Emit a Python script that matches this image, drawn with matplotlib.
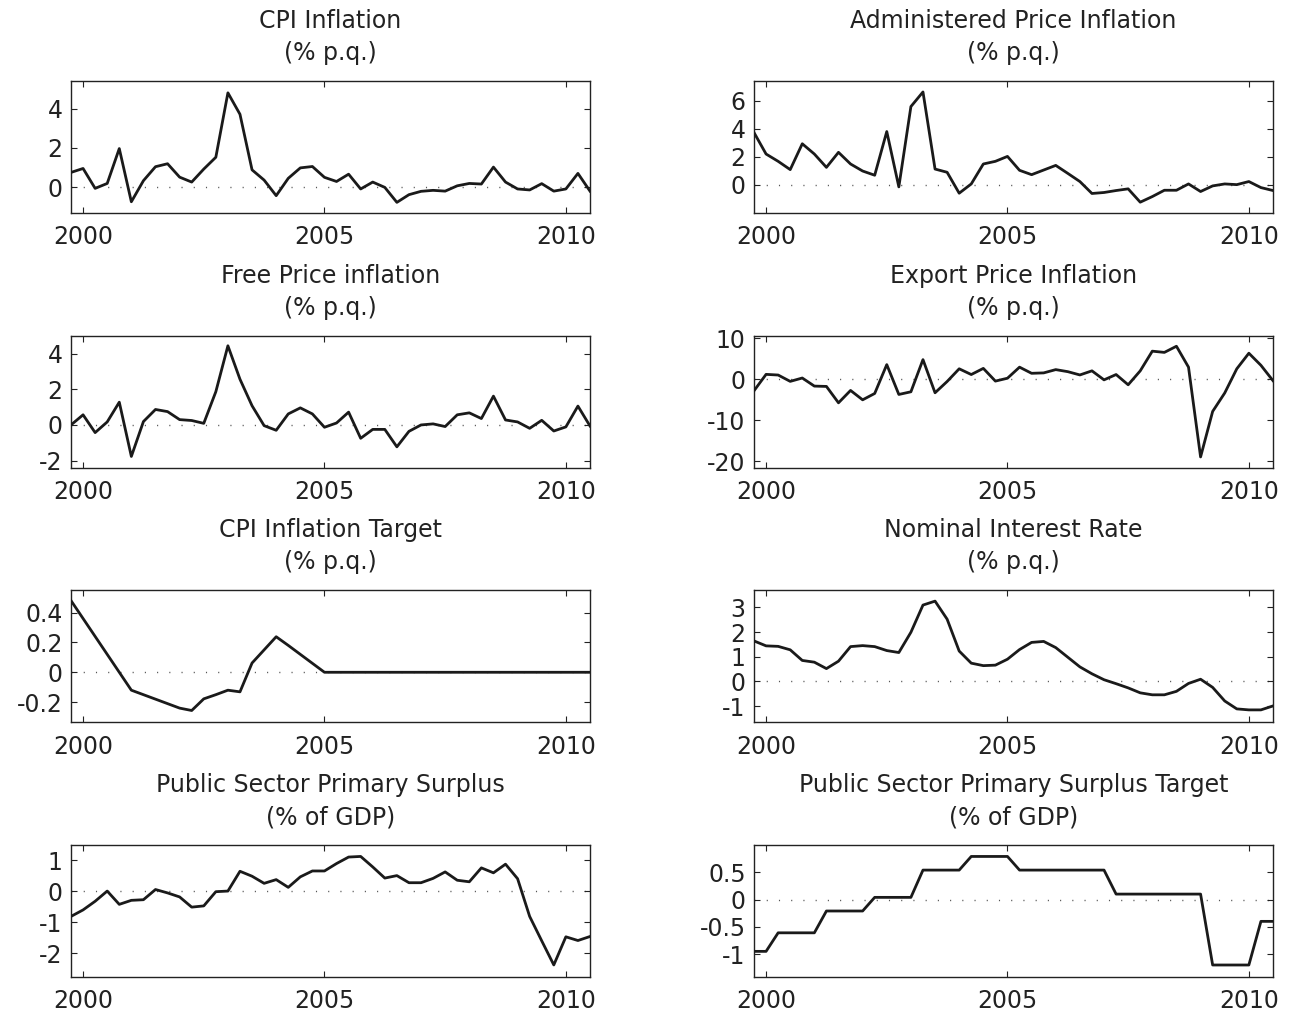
import numpy as np
import pandas as pd
import matplotlib
matplotlib.use("Agg")
import matplotlib.pyplot as plt

plt.rcParams['font.family'] = ['DejaVu Sans']
plt.rcParams['axes.unicode_minus'] = False

quarters = pd.period_range('1999Q4', '2010Q3', freq='Q')

cpi_inflation = [0.76, 0.96, -0.05, 0.2, 1.97, -0.73, 0.34, 1.05, 1.2, 0.52, 0.27, 0.93, 1.53, 4.8,
                 3.71, 0.89, 0.37, -0.42, 0.46, 0.99, 1.06, 0.51, 0.3, 0.67, -0.08, 0.27, 0.0, -0.76,
                 -0.37, -0.2, -0.15, -0.19, 0.08, 0.2, 0.17, 1.03, 0.27, -0.08, -0.13, 0.19, -0.19,
                 -0.08, 0.71, -0.19]
admin_inflation = [3.73, 2.2, 1.68, 1.09, 2.93, 2.2, 1.25, 2.32, 1.49, 0.99, 0.69, 3.8, -0.14, 5.58,
                   6.62, 1.13, 0.9, -0.59, 0.07, 1.49, 1.68, 2.03, 1.04, 0.73, 1.06, 1.39, 0.82, 0.24,
                   -0.61, -0.54, -0.4, -0.28, -1.23, -0.83, -0.38, -0.38, 0.07, -0.47, -0.07, 0.07,
                   0.02, 0.24, -0.19, -0.4]
free_inflation = [0.0, 0.57, -0.43, 0.17, 1.28, -1.77, 0.19, 0.87, 0.75, 0.3, 0.25, 0.09, 1.87, 4.45,
                  2.57, 1.08, -0.04, -0.3, 0.62, 0.96, 0.62, -0.13, 0.11, 0.72, -0.75, -0.25, -0.25,
                  -1.23, -0.36, 0.0, 0.06, -0.09, 0.57, 0.68, 0.36, 1.62, 0.28, 0.17, -0.19, 0.26,
                  -0.34, -0.11, 1.06, -0.06]
export_inflation = [-2.86, 1.14, 0.98, -0.57, 0.25, -1.72, -1.8, -5.8, -2.78, -5.07, -3.52, 3.52,
                    -3.76, -3.11, 4.74, -3.35, -0.6, 2.5, 1.1, 2.6, -0.5, 0.2, 2.9, 1.4, 1.5, 2.3,
                    1.8, 1.0, 2.0, -0.2, 1.1, -1.4, 2.0, 6.8, 6.5, 8.0, 2.9, -19.0, -7.9, -3.4, 2.5,
                    6.3, 3.35, -0.4]
cpi_target = [0.48, 0.36, 0.24, 0.12, 0.0, -0.12, -0.15, -0.18, -0.21, -0.24, -0.256, -0.178, -0.15,
              -0.12, -0.131, 0.062, 0.15, 0.238, 0.18, 0.12, 0.06, 0.0, 0.0, 0.0, 0.0, 0.0, 0.0, 0.0,
              0.0, 0.0, 0.0, 0.0, 0.0, 0.0, 0.0, 0.0, 0.0, 0.0, 0.0, 0.0, 0.0, 0.0, 0.0, 0.0]
interest_rate = [1.64, 1.44, 1.42, 1.28, 0.85, 0.78, 0.52, 0.82, 1.41, 1.45, 1.41, 1.25, 1.17, 1.99,
                 3.09, 3.25, 2.52, 1.23, 0.74, 0.64, 0.66, 0.9, 1.29, 1.58, 1.62, 1.37, 0.98, 0.59,
                 0.31, 0.07, -0.09, -0.26, -0.46, -0.54, -0.54, -0.4, -0.08, 0.09, -0.24, -0.79,
                 -1.11, -1.15, -1.15, -0.99]
primary_surplus = [-0.81, -0.6, -0.32, 0.01, -0.42, -0.29, -0.27, 0.06, -0.05, -0.18, -0.51, -0.47,
                   -0.01, 0.01, 0.65, 0.49, 0.26, 0.38, 0.13, 0.47, 0.66, 0.66, 0.9, 1.11, 1.13, 0.79,
                   0.43, 0.51, 0.28, 0.28, 0.42, 0.63, 0.36, 0.31, 0.76, 0.6, 0.88, 0.41, -0.81,
                   -1.6, -2.38, -1.47, -1.59, -1.46]
surplus_target = [-0.95, -0.95, -0.61, -0.61, -0.61, -0.61, -0.21, -0.21, -0.21, -0.21, 0.04, 0.04,
                  0.04, 0.04, 0.54, 0.54, 0.54, 0.54, 0.79, 0.79, 0.79, 0.79, 0.54, 0.54, 0.54, 0.54,
                  0.54, 0.54, 0.54, 0.54, 0.1, 0.1, 0.1, 0.1, 0.1, 0.1, 0.1, 0.1, -1.2, -1.2, -1.2,
                  -1.2, -0.4, -0.4]

titles = ["CPI Inflation\n(% p.q.)", "Administered Price Inflation\n(% p.q.)",
          "Free Price inflation\n(% p.q.)", "Export Price Inflation\n(% p.q.)",
          "CPI Inflation Target\n(% p.q.)", "Nominal Interest Rate\n(% p.q.)",
          "Public Sector Primary Surplus\n(% of GDP)", "Public Sector Primary Surplus Target\n(% of GDP)"]
series = [cpi_inflation, admin_inflation, free_inflation, export_inflation,
          cpi_target, interest_rate, primary_surplus, surplus_target]
yticks = [[0, 2, 4], [0, 2, 4, 6], [-2, 0, 2, 4], [-20, -10, 0, 10],
          [-0.2, 0, 0.2, 0.4], [-1, 0, 1, 2, 3], [-2, -1, 0, 1], [-1, -0.5, 0, 0.5]]
ylims = [(-1.3, 5.4), (-2.0, 7.4), (-2.42, 5.0), (-21.7, 10.5),
         (-0.333, 0.551), (-1.64, 3.7), (-2.77, 1.5), (-1.42, 1.0)]
xticks = [2000, 2005, 2010]

x = np.array([q.year + (q.quarter - 1) / 4 for q in quarters])

W, H = 1300, 1018
fig = plt.figure(figsize=(W / 100, H / 100), dpi=100)

col_left = [71, 754]
ax_w = 519
ax_h = 132
row_top = [81, 336, 590, 845]

def fmt(v):
    if float(v).is_integer():
        return str(int(v))
    return ('%g' % v)

for k in range(8):
    r, c = divmod(k, 2)
    left = col_left[c] / W
    bottom = 1 - (row_top[r] + ax_h) / H
    ax = fig.add_axes([left, bottom, ax_w / W, ax_h / H])
    ax.axhline(0, color='#555555', lw=1.0, linestyle=(0, (0.8, 8)), zorder=1)
    ax.plot(x, series[k], color='#1a1a1a', lw=2.0, zorder=3)
    ax.set_xlim(x[0], x[-1])
    ax.set_ylim(*ylims[k])
    ax.set_xticks(xticks)
    ax.set_xticklabels([str(t) for t in xticks])
    ax.set_yticks(yticks[k])
    ax.set_yticklabels([fmt(v) for v in yticks[k]])
    ax.tick_params(direction='in', length=4, width=0.8, top=True, right=True,
                   labelsize=17, colors='#222222')
    ax.tick_params(axis='x', pad=9)
    ax.tick_params(axis='y', pad=6)
    for s in ax.spines.values():
        s.set_linewidth(1.0)
        s.set_color('#222222')
    ax.set_title(titles[k], fontsize=17, color='#222222', pad=15, linespacing=1.45)

fig.savefig('out.png', dpi=100)
